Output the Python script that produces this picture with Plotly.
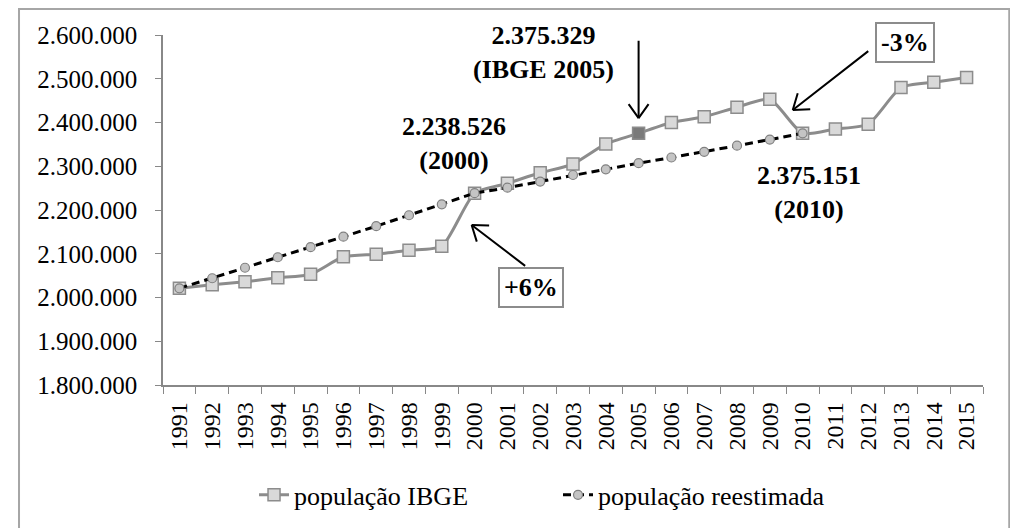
import math
import plotly.graph_objects as go

years = [str(y) for y in range(1991, 2016)]
pop_ibge = [2021000, 2029000, 2036000, 2045000, 2053000, 2093000, 2099000, 2108000,
            2117000, 2238526, 2261000, 2285000, 2305000, 2351000, 2375329, 2400000,
            2413000, 2435000, 2453000, 2375151, 2385000, 2396000, 2480000, 2492000, 2503000]
years_re = [str(y) for y in range(1991, 2011)]
pop_re = [2021000, 2044000, 2068000, 2092000, 2115000, 2139000, 2163000, 2188000,
          2213000, 2238526, 2251000, 2265000, 2280000, 2293000, 2307000, 2320000,
          2333000, 2347000, 2361000, 2375151]
highlight_year = "2005"
series_names = ["população IBGE", "população reestimada"]

FONT = "Liberation Serif"
GRAY_LINE = "#8c8c8c"

sq_fill = ["#7a7a7a" if y == highlight_year else "#d9d9d9" for y in years]

fig = go.Figure()
fig.add_trace(go.Scatter(
    x=years, y=pop_ibge, name=series_names[0], mode="lines+markers",
    line=dict(color=GRAY_LINE, width=3, shape="spline", smoothing=0.6),
    marker=dict(symbol="square", size=12, color=sq_fill,
                line=dict(color=GRAY_LINE, width=1.5)),
))
fig.add_trace(go.Scatter(
    x=years_re, y=pop_re, name=series_names[1], mode="lines+markers",
    line=dict(color="black", width=3, dash="8px,5px"),
    marker=dict(symbol="circle", size=9, color="#c4c4c4",
                line=dict(color="#808080", width=1.2)),
))

# text annotations (x = category index, y = data value)
texts = [
    dict(text="<b>2.375.329<br>(IBGE 2005)</b>", x=11.11, y=2560000, box=False),
    dict(text="<b>2.238.526<br>(2000)</b>", x=8.36, y=2352000, box=False),
    dict(text="<b>2.375.151<br>(2010)</b>", x=19.2, y=2240000, box=False),
    dict(text="<b>+6%</b>", x=10.71, y=2024000, box=True),
    dict(text="<b>-3%</b>", x=22.13, y=2583000, box=True),
]
for t in texts:
    fig.add_annotation(
        x=t["x"], y=t["y"], xref="x", yref="y", text=t["text"], showarrow=False,
        font=dict(family=FONT, size=26, color="black"),
        bordercolor="#8c8c8c" if t["box"] else None,
        borderwidth=2 if t["box"] else 0, borderpad=4 if t["box"] else 0,
        bgcolor="white" if t["box"] else None,
    )

# arrows: tip in data coords, tail as pixel offset
arrows = [
    dict(x=14.0, y=2410000, ax=0, ay=-79),
    dict(x=8.91, y=2165700, ax=55, ay=42),
    dict(x=18.7, y=2428600, ax=77, ay=-60),
]
for a in arrows:
    fig.add_annotation(x=a["x"], y=a["y"], xref="x", yref="y", ax=a["ax"], ay=a["ay"],
                       text="", showarrow=True, arrowhead=0, arrowwidth=2,
                       arrowcolor="black", standoff=0, startstandoff=0)
    ang = math.atan2(a["ay"], a["ax"])
    for d in (-0.62, 0.62):
        wx = 19 * math.cos(ang + d)
        wy = 19 * math.sin(ang + d)
        fig.add_annotation(x=a["x"], y=a["y"], xref="x", yref="y", ax=wx, ay=wy,
                           text="", showarrow=True, arrowhead=0, arrowwidth=2,
                           arrowcolor="black", standoff=0, startstandoff=0)

# outer chart border
fig.add_shape(type="rect", xref="paper", yref="paper",
              x0=-0.1756, x1=1.032, y0=-0.46, y1=1.0743,
              line=dict(color="#a6a6a6", width=2), fillcolor="rgba(0,0,0,0)", layer="below")

fig.update_layout(
    width=1010, height=520,
    margin=dict(l=155, r=35, t=27, b=143, autoexpand=False),
    paper_bgcolor="white", plot_bgcolor="white",
    separators=",.",
    font=dict(family=FONT, size=24, color="black"),
    showlegend=True,
    legend=dict(orientation="h", x=0.111, xanchor="left", y=-0.314, yanchor="middle",
                font=dict(family=FONT, size=26, color="black"),
                entrywidth=259, entrywidthmode="pixels",
                tracegroupgap=0, bgcolor="rgba(0,0,0,0)"),
)
fig.update_xaxes(
    type="category", range=[-0.5, len(years) - 0.5], tickson="boundaries",
    ticks="outside", ticklen=7,
    tickcolor="#888888", showline=True, linecolor="#888888", linewidth=1.5,
    tickangle=-90, tickfont=dict(family=FONT, size=24, color="black"),
    showgrid=False, zeroline=False, ticklabelstandoff=6,
)
fig.update_yaxes(
    range=[1800000, 2600000], dtick=100000, tickformat=",.0f",
    ticks="outside", ticklen=6, tickcolor="#888888", showline=True,
    linecolor="#888888", linewidth=1.5, showgrid=False, zeroline=False,
    tickfont=dict(family=FONT, size=25, color="black"), ticklabelstandoff=13,
)

fig.write_html("out.html")
